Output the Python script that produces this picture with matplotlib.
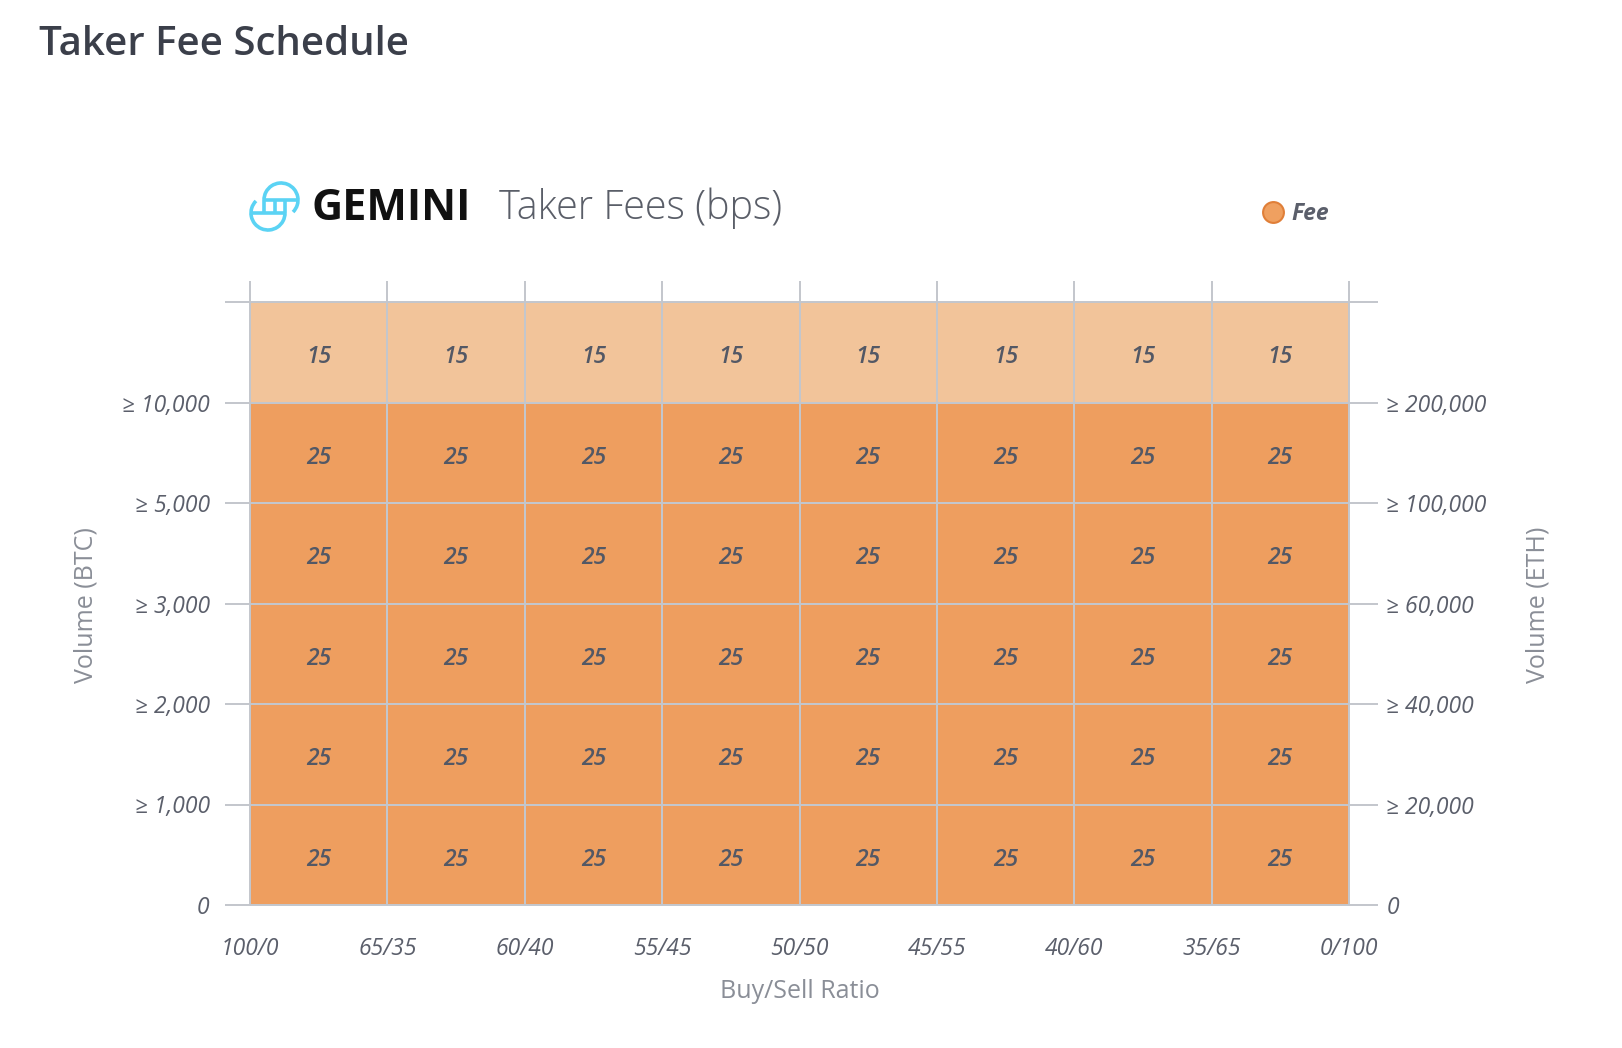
import numpy as np
import matplotlib
matplotlib.use("Agg")
import matplotlib.pyplot as plt
from matplotlib.colors import ListedColormap, BoundaryNorm
from matplotlib.patches import Arc
from matplotlib.lines import Line2D

# ---------------- data ----------------
ratio_labels = ["100/0", "65/35", "60/40", "55/45", "50/50", "45/55", "40/60", "35/65", "0/100"]
btc_labels = ["0", "≥ 1,000", "≥ 2,000", "≥ 3,000", "≥ 5,000", "≥ 10,000", ""]
eth_labels = ["0", "≥ 20,000", "≥ 40,000", "≥ 60,000", "≥ 100,000", "≥ 200,000", ""]
# fee rows from lowest volume tier (bottom) to highest (top), bps
fee_tier1 = [25, 25, 25, 25, 25, 25, 25, 25]
fee_tier2 = [25, 25, 25, 25, 25, 25, 25, 25]
fee_tier3 = [25, 25, 25, 25, 25, 25, 25, 25]
fee_tier4 = [25, 25, 25, 25, 25, 25, 25, 25]
fee_tier5 = [25, 25, 25, 25, 25, 25, 25, 25]
fee_tier6 = [15, 15, 15, 15, 15, 15, 15, 15]

fees = np.array([fee_tier1, fee_tier2, fee_tier3, fee_tier4, fee_tier5, fee_tier6])

FONT = ["Open Sans", "DejaVu Sans"]
plt.rcParams["font.family"] = FONT

W, H = 1622, 1048
fig = plt.figure(figsize=(W / 100, H / 100), dpi=100)
fig.patch.set_facecolor("white")

GRID = "#c3c6cc"
TICKTXT = "#5b5f6b"
CELLTXT = "#535865"
LIGHT = "#f2c49a"
DARK = "#ee9e5f"

L, R, T, B = 250, 1349, 302, 905
ax = fig.add_axes([L / W, 1 - B / H, (R - L) / W, (B - T) / H])

cmap = ListedColormap([LIGHT, DARK])
norm = BoundaryNorm([0, 20, 100], 2)
xe = np.arange(len(ratio_labels))
ye = np.arange(len(btc_labels))
ax.pcolormesh(xe, ye, fees, cmap=cmap, norm=norm, edgecolors=GRID, linewidth=1.4)
ax.set_xlim(0, len(ratio_labels) - 1)
ax.set_ylim(0, len(btc_labels) - 1)

for i in range(fees.shape[0]):
    for j in range(fees.shape[1]):
        ax.text(j + 0.5, i + 0.45, str(fees[i, j]), ha="center", va="center",
                fontsize=16.5, style="italic", color=CELLTXT, fontweight="semibold")

for s in ax.spines.values():
    s.set_color(GRID)
    s.set_linewidth(1.4)

TICKFONT = dict(fontsize=16.5, style="italic", color=TICKTXT, fontweight="medium")
ax.set_xticks(xe)
ax.set_xticklabels(ratio_labels, **TICKFONT)
ax.tick_params(axis="x", bottom=False, top=True, labelbottom=True, labeltop=False,
               length=15, width=1.4, color=GRID, pad=8)
ax.set_yticks(ye)
ax.set_yticklabels(btc_labels, **TICKFONT)
ax.tick_params(axis="y", left=True, right=False, length=18, width=1.4, color=GRID, pad=11)

ax2 = ax.twinx()
ax2.set_ylim(0, len(eth_labels) - 1)
ax2.set_yticks(ye)
ax2.set_yticklabels(eth_labels, **TICKFONT)
ax2.tick_params(axis="y", right=True, length=21, width=1.4, color=GRID, pad=6)
for s in ax2.spines.values():
    s.set_visible(False)

LBL = "#8a8e97"
fig.text(86 / W, 1 - 605 / H, "Volume (BTC)", rotation=90, ha="center", va="center",
         fontsize=18, color=LBL, fontweight="normal")
fig.text(1538 / W, 1 - 605 / H, "Volume (ETH)", rotation=90, ha="center", va="center",
         fontsize=18, color=LBL, fontweight="normal")
fig.text(800 / W, 1 - 991 / H, "Buy/Sell Ratio", ha="center", va="center",
         fontsize=18, color=LBL, fontweight="normal")

# title
fig.text(39 / W, 1 - 45 / H, "Taker Fee Schedule", ha="left", va="center",
         fontsize=29, color="#3b3f4a", fontweight="semibold")

# overlay for logo (pixel coords, y up)
ov = fig.add_axes([0, 0, 1, 1], zorder=5)
ov.set_xlim(0, W)
ov.set_ylim(0, H)
ov.axis("off")
ov.patch.set_alpha(0)
fy = lambda y: H - y
CY = "#5bd3f4"
lw = 2.6
ov.add_patch(Arc((281, fy(200)), 34, 34, theta1=-45, theta2=180, color=CY, lw=lw))
ov.add_patch(Arc((268, fy(213)), 34, 34, theta1=135, theta2=360, color=CY, lw=lw))
ov.plot([264, 298], [fy(200), fy(200)], color=CY, lw=lw, solid_capstyle="butt")
ov.plot([251, 285], [fy(213), fy(213)], color=CY, lw=lw, solid_capstyle="butt")
for x in (264, 275, 285):
    ov.plot([x, x], [fy(200), fy(213)], color=CY, lw=lw, solid_capstyle="butt")

fig.text(311 / W, 1 - 208 / H, "GEMINI", ha="left", va="center", fontsize=31,
         color="#111111", fontweight="bold")
fig.text(499 / W, 1 - 208 / H, "Taker Fees (bps)", ha="left", va="center", fontsize=28.5,
         color="#5a5e68", fontweight="light")

# legend
handle = Line2D([], [], marker="o", linestyle="none", markersize=15,
                markerfacecolor="#efa060", markeredgecolor="#e07f38", markeredgewidth=1.5)
leg = fig.legend([handle], ["Fee"], loc="center left", bbox_to_anchor=(1252 / W, 1 - 214 / H),
                 frameon=False, handletextpad=0.3, borderaxespad=0, handlelength=1.0,
                 prop={"family": FONT, "size": 16.5, "style": "italic", "weight": "bold"})
for t in leg.get_texts():
    t.set_color(TICKTXT)

fig.savefig("out.png", dpi=100, facecolor="white")
